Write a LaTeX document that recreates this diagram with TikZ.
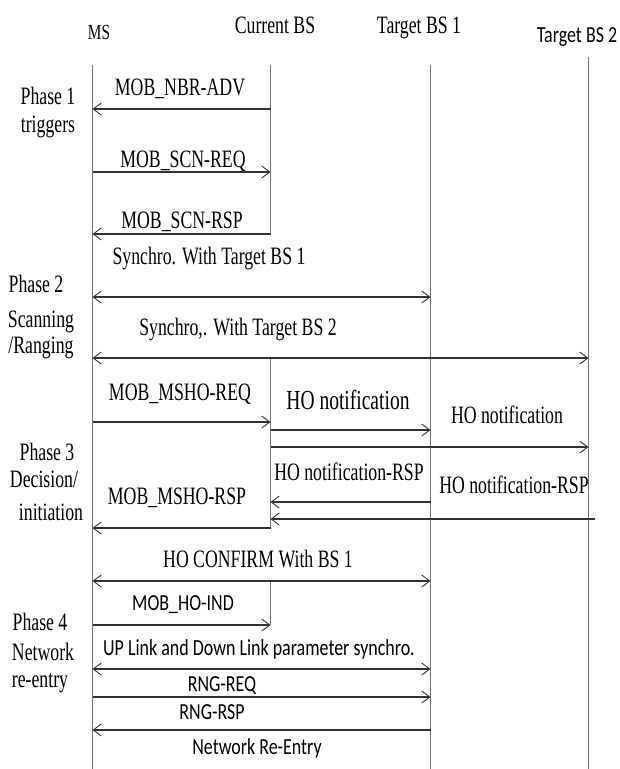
\documentclass[tikz,border=0pt]{standalone}
\usepackage{fontspec}
\setmainfont{Liberation Serif}[FakeStretch=0.71]
\newfontfamily\labsans{Carlito}[FakeStretch=0.78]
\usetikzlibrary{arrows.meta}

\begin{document}
\begin{tikzpicture}[x=1pt,y=-1pt,
  lifeline/.style={draw=black!55, line width=1.2pt},
  tipshape/.tip={Straight Barb[length=8pt,width=12pt,line width=0.9pt]},
  msg/.style={draw=black!80, line width=1.1pt, -tipshape},
  twoway/.style={draw=black!80, line width=1.1pt, tipshape-tipshape},
  plain/.style={draw=black!80, line width=1.1pt},
  serif/.style={font=\fontsize{25}{28}\selectfont, inner sep=0pt, anchor=base},
  bigserif/.style={font=\fontsize{27.5}{30}\selectfont, inner sep=0pt, anchor=base},
  sans/.style={font=\labsans\fontsize{23}{26}\selectfont, inner sep=0pt, anchor=base},
  phase/.style={serif}]

\useasboundingbox (0,0) rectangle (619,769);

% entity headers
\node[serif, font=\fontsize{21.5}{24}\selectfont] (hms) at (99,39) {MS};
\node[serif] (hcbs) at (275,33) {Current BS};
\node[serif] (htbs1) at (419,33) {Target BS 1};
\node[sans] (htbs2) at (577,42) {Target BS 2};

% lifeline tops and bottoms
\coordinate (ms) at (92.5,65);
\coordinate (cbs) at (270.5,65);
\coordinate (tbs1) at (430.5,65);
\coordinate (tbs2) at (588.5,57);
\coordinate (bottom) at (0,769);
\coordinate (farright) at (595,0);

% message rows
\coordinate (r1) at (0,109);
\coordinate (r2) at (0,172);
\coordinate (r3) at (0,234);
\coordinate (r4) at (0,297);
\coordinate (r5) at (0,358);
\coordinate (r6) at (0,422);
\coordinate (r7) at (0,430);
\coordinate (r8) at (0,447);
\coordinate (r9) at (0,502);
\coordinate (r10) at (0,519);
\coordinate (r11) at (0,528);
\coordinate (r12) at (0,581);
\coordinate (r13) at (0,625);
\coordinate (r14) at (0,669);
\coordinate (r15) at (0,697);
\coordinate (r16) at (0,730);

% lifelines
\draw[lifeline] (ms) -- (ms |- bottom);
\draw[lifeline] (tbs1) -- (tbs1 |- bottom);
\draw[lifeline] (tbs2) -- (tbs2 |- bottom);
\draw[lifeline] (cbs) -- (cbs |- r3);
\draw[lifeline] (cbs |- r5) -- (cbs |- r11);
\draw[lifeline] (cbs |- r12) -- (cbs |- r13);

% phase 1
\node[phase] (p1a) at (48,104) {Phase 1};
\node[phase] (p1b) at (48,132) {triggers};
\node[serif] (m1) at (180,95) {MOB\_NBR-ADV};
\draw[msg] (cbs |- r1) -- (ms |- r1);
\node[serif] (m2) at (183,167) {MOB\_SCN-REQ};
\draw[msg] (ms |- r2) -- (cbs |- r2);
\node[serif] (m3) at (182,228) {MOB\_SCN-RSP};
\draw[msg] (cbs |- r3) -- (ms |- r3);

% phase 2
\node[phase] (p2a) at (36,292) {Phase 2};
\node[phase] (p2b) at (41,327) {Scanning};
\node[phase] (p2c) at (41,353) {/Ranging};
\node[serif] (m4) at (209,264) {Synchro. With Target BS 1};
\draw[twoway] (ms |- r4) -- (tbs1 |- r4);
\node[serif] (m5) at (238,335) {Synchro,. With Target BS 2};
\draw[twoway] (ms |- r5) -- (tbs2 |- r5);

% phase 3
\node[phase] (p3a) at (47,460) {Phase 3};
\node[phase] (p3b) at (44,487) {Decision/};
\node[phase] (p3c) at (51,520) {initiation};
\node[serif] (m6) at (180,400) {MOB\_MSHO-REQ};
\draw[msg] (ms |- r6) -- (cbs |- r6);
\node[bigserif] (m7) at (348,409) {HO notification};
\draw[msg] (cbs |- r7) -- (tbs1 |- r7);
\node[serif] (m8) at (507,423) {HO notification};
\draw[msg] (cbs |- r8) -- (tbs2 |- r8);
\node[serif] (m9) at (349,480) {HO notification-RSP};
\draw[msg] (tbs1 |- r9) -- (cbs |- r9);
\node[serif] (m10) at (514,493) {HO notification-RSP};
\draw[msg] (farright |- r10) -- (cbs |- r10);
\node[serif] (m11) at (177,504) {MOB\_MSHO-RSP};
\draw[msg] (cbs |- r11) -- (ms |- r11);
\node[serif] (m12) at (258,567) {HO CONFIRM With BS 1};
\draw[twoway] (ms |- r12) -- (tbs1 |- r12);

% phase 4
\node[phase] (p4a) at (40,630) {Phase 4};
\node[phase] (p4b) at (43,660) {Network};
\node[phase] (p4c) at (40,687) {re-entry};
\node[sans] (m13) at (183,610) {MOB\_HO-IND};
\draw[msg] (ms |- r13) -- (cbs |- r13);
\node[sans] (m14) at (259,655) {UP Link and Down Link parameter synchro.};
\draw[twoway] (ms |- r14) -- (tbs1 |- r14);
\node[sans] (m15) at (222,691) {RNG-REQ};
\draw[msg] (ms |- r15) -- (tbs1 |- r15);
\node[sans] (m16) at (212,719) {RNG-RSP};
\draw[msg] (tbs1 |- r16) -- (ms |- r16);
\node[sans] (m17) at (257,754) {Network Re-Entry};

\end{tikzpicture}
\end{document}
